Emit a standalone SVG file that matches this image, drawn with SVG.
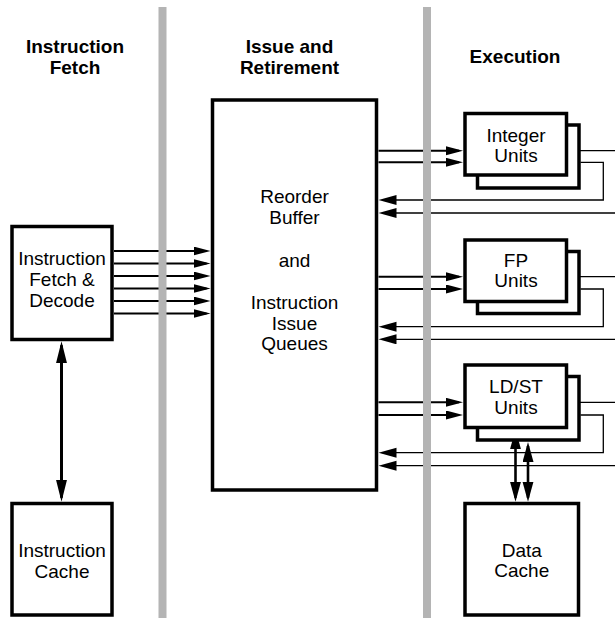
<svg xmlns="http://www.w3.org/2000/svg" width="615" height="619" viewBox="0 0 615 619">
<style>
.box{fill:#fff;stroke:#000;stroke-width:3.5}
.lbl{font-family:"Liberation Sans",Arial,sans-serif;font-size:19px;text-anchor:middle;fill:#000}
.hd{font-family:"Liberation Sans",Arial,sans-serif;font-size:19px;font-weight:bold;text-anchor:middle;fill:#000}
.bar{fill:#b4b4b4}
.thick{stroke:#000;stroke-width:2;fill:none}
.thin{stroke:#000;stroke-width:1.3;fill:none}
.vert{stroke:#000;stroke-width:3;fill:none}
.vert2{stroke:#000;stroke-width:2.6;fill:none}
</style>
<defs>
<marker id="ah" markerUnits="userSpaceOnUse" markerWidth="18" markerHeight="10" refX="13" refY="4.5" orient="auto"><path d="M0,0 L17,4.5 L0,9 z" fill="#000"/></marker>
<marker id="ar" markerUnits="userSpaceOnUse" markerWidth="19" markerHeight="11" refX="14" refY="5" orient="auto"><path d="M0,0 L18,5 L0,10 z" fill="#000"/></marker>
<marker id="av" markerUnits="userSpaceOnUse" markerWidth="23" markerHeight="12" refX="18" refY="5.5" orient="auto-start-reverse"><path d="M0,0 L22,5.5 L0,11 z" fill="#000"/></marker>
<marker id="av2" markerUnits="userSpaceOnUse" markerWidth="21" markerHeight="12" refX="16" refY="5.5" orient="auto-start-reverse"><path d="M0,0 L20,5.5 L0,11 z" fill="#000"/></marker>
</defs>
<rect width="615" height="619" fill="#fff"/>

<g id="headings">
<text class="hd" x="75" y="53">Instruction</text>
<text class="hd" x="75" y="74">Fetch</text>
<text class="hd" x="289.5" y="53">Issue and</text>
<text class="hd" x="289.5" y="74">Retirement</text>
<text class="hd" x="515" y="63">Execution</text>
</g>

<g id="connectors">
<g marker-end="url(#ah)" class="thick">
<line x1="114" y1="251" x2="206.5" y2="251"/>
<line x1="114" y1="263.5" x2="206.5" y2="263.5"/>
<line x1="114" y1="276" x2="206.5" y2="276"/>
<line x1="114" y1="288.5" x2="206.5" y2="288.5"/>
<line x1="114" y1="301" x2="206.5" y2="301"/>
<line x1="114" y1="313.5" x2="206.5" y2="313.5"/>
<line x1="378.5" y1="150.7" x2="459" y2="150.7"/>
<line x1="378.5" y1="162.3" x2="459" y2="162.3"/>
<line x1="378.5" y1="276.7" x2="459" y2="276.7"/>
<line x1="378.5" y1="289" x2="459" y2="289"/>
<line x1="378.5" y1="402.3" x2="459" y2="402.3"/>
<line x1="378.5" y1="415" x2="459" y2="415"/>
</g>
<g class="thin">
<line x1="568" y1="150.7" x2="615" y2="150.7"/>
<line x1="568" y1="276.7" x2="615" y2="276.7"/>
<line x1="568" y1="402.3" x2="615" y2="402.3"/>
</g>
<g class="thin" marker-end="url(#ar)">
<polyline points="580.5,162.3 603.3,162.3 603.3,200 382.5,200"/>
<line x1="615" y1="213" x2="382.5" y2="213"/>
<polyline points="580.5,289 603.3,289 603.3,326.7 382.5,326.7"/>
<line x1="615" y1="339.3" x2="382.5" y2="339.3"/>
<polyline points="580.5,415 603.3,415 603.3,452.7 382.5,452.7"/>
<line x1="615" y1="465.7" x2="382.5" y2="465.7"/>
</g>
<line class="vert" x1="61.5" y1="345.3" x2="61.5" y2="497.7" marker-start="url(#av)" marker-end="url(#av)"/>
<line class="vert2" x1="515.5" y1="433.3" x2="515.5" y2="497.7" marker-start="url(#av2)" marker-end="url(#av2)"/>
<line class="vert2" x1="528" y1="446" x2="528" y2="497.7" marker-start="url(#av2)" marker-end="url(#av2)"/>
</g>

<g id="separators">
<rect class="bar" x="158.5" y="7" width="8" height="611"/>
<rect class="bar" x="423" y="7" width="8" height="611"/>
</g>

<g id="fetch-decode">
<rect class="box" x="12" y="226.5" width="100" height="113"/>
<text class="lbl" x="62" y="265">Instruction</text>
<text class="lbl" x="62" y="286">Fetch &amp;</text>
<text class="lbl" x="62" y="306.7">Decode</text>
</g>

<g id="instruction-cache">
<rect class="box" x="12" y="503.5" width="100" height="111.5"/>
<text class="lbl" x="62" y="557.3">Instruction</text>
<text class="lbl" x="62" y="578.3">Cache</text>
</g>

<g id="reorder-buffer">
<rect class="box" x="212.5" y="100" width="164" height="390"/>
<text class="lbl" x="294.5" y="203">Reorder</text>
<text class="lbl" x="294.5" y="224">Buffer</text>
<text class="lbl" x="294.5" y="266.7">and</text>
<text class="lbl" x="294.5" y="309">Instruction</text>
<text class="lbl" x="294.5" y="330">Issue</text>
<text class="lbl" x="294.5" y="350">Queues</text>
</g>

<g id="integer-units">
<rect class="box" x="477.5" y="125" width="101.5" height="63"/>
<rect class="box" x="465" y="113.5" width="101.5" height="61.5"/>
<text class="lbl" x="516" y="141.7">Integer</text>
<text class="lbl" x="516" y="161.7">Units</text>
</g>

<g id="fp-units">
<rect class="box" x="477.5" y="251.5" width="101.5" height="62"/>
<rect class="box" x="465" y="240" width="101.5" height="61.5"/>
<text class="lbl" x="516" y="266.7">FP</text>
<text class="lbl" x="516" y="287.3">Units</text>
</g>

<g id="ldst-units">
<rect class="box" x="477.5" y="376.5" width="101.5" height="63.5"/>
<rect class="box" x="465" y="365" width="101.5" height="62.5"/>
<text class="lbl" x="516" y="393.3">LD/ST</text>
<text class="lbl" x="516" y="414">Units</text>
</g>

<g id="data-cache">
<rect class="box" x="465" y="503.5" width="113.5" height="111.5"/>
<text class="lbl" x="521.75" y="557">Data</text>
<text class="lbl" x="521.75" y="577.3">Cache</text>
</g>
</svg>
